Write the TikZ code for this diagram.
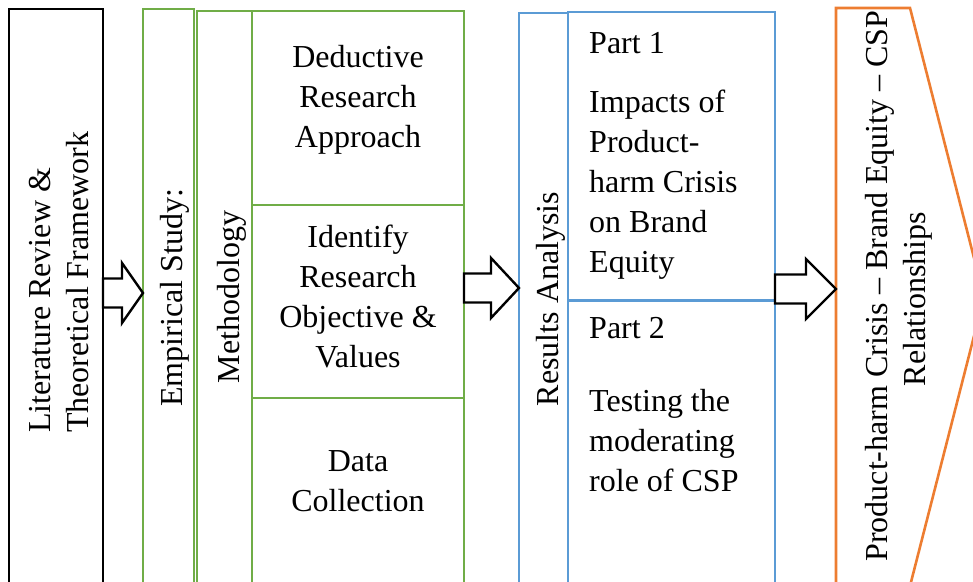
\documentclass[tikz,border=0pt]{standalone}
\usepackage{fontspec}
\setmainfont{Liberation Serif}
\usetikzlibrary{calc}

\definecolor{boxgreen}{RGB}{112,173,71}
\definecolor{boxblue}{RGB}{91,155,213}
\definecolor{boxorange}{RGB}{237,125,49}

% hollow block arrow: from, to, height, head length
\newcommand{\blockarrow}[4]{%
  \draw[fatarrow] let \p1=(#1), \p2=(#2) in
    (\x1,#3+14.5) -- (\x2-#4,#3+14.5) -- (\x2-#4,#3+30) -- (\x2,#3)
    -- (\x2-#4,#3-30) -- (\x2-#4,#3-14.5) -- (\x1,#3-14.5) -- cycle;}

\begin{document}
\begin{tikzpicture}[x=1pt, y=1pt,
    box/.style={draw, line width=2.6pt, inner sep=0pt, outer sep=0pt, anchor=north west},
    txt/.style={font=\fontsize{32}{40}\selectfont, inner sep=0pt},
    fatarrow/.style={draw=black, line width=2.4pt, fill=white, line join=miter}]
        \useasboundingbox (0,0) rectangle (973,581);
        \clip (0,0) rectangle (973,581);

        % literature
        \node[box, draw=black, minimum width=94pt, minimum height=590pt] (lit) at (9,572) {};
        \node[txt, rotate=90, anchor=base west] (lit1) at (50,148) {Literature Review \&};
        \node[txt, rotate=90, anchor=base west] (lit2) at (88,148) {Theoretical Framework};

        % empirical study
        \node[box, draw=boxgreen, minimum width=51pt, minimum height=590pt] (emp) at (143,572) {};
        \node[box, draw=boxgreen, minimum width=55pt, minimum height=590pt] (meth) at (197,570) {};
        \node[box, draw=boxgreen, minimum width=212pt, minimum height=194pt] (ded) at (252,570) {};
        \node[box, draw=boxgreen, minimum width=212pt, minimum height=193pt] (idf) at (252,376) {};
        \node[box, draw=boxgreen, minimum width=212pt, minimum height=200pt] (dat) at (252,183) {};
        \node[txt, rotate=90, anchor=base] (empt) at (182,283) {Empirical Study:};
        \node[txt, rotate=90, anchor=base] (metht) at (239,284) {Methodology};
        \foreach \w [count=\i] in {Deductive, Research, Approach}
            \node[txt, anchor=base] (ded\i) at (358,553-40*\i) {\w};
        \foreach \w [count=\i] in {Identify, Research, Objective \&, Values}
            \node[txt, anchor=base] (idf\i) at (358,373-40*\i) {\w};
        \foreach \w [count=\i] in {Data, Collection}
            \node[txt, anchor=base] (dat\i) at (358,150-40*\i) {\w};

        % results
        \node[box, draw=boxblue, minimum width=49pt, minimum height=590pt] (res) at (519,568) {};
        \node[box, draw=boxblue, minimum width=207pt, minimum height=288pt] (pa) at (568,569) {};
        \node[box, draw=boxblue, minimum width=207pt, minimum height=300pt] (pb) at (568,280) {};
        \node[txt, rotate=90, anchor=base] (rest) at (558,282) {Results Analysis};
        \node[txt, anchor=base west] (pa0) at (589,527) {Part 1};
        \foreach \w [count=\i] in {Impacts of, Product-, harm Crisis, on Brand, Equity}
            \node[txt, anchor=base west] (pa\i) at (589,508-40*\i) {\w};
        \node[txt, anchor=base west] (pb0) at (589,242) {Part 2};
        \foreach \w [count=\i] in {Testing the, moderating, role of CSP}
            \node[txt, anchor=base west] (pb\i) at (589,210-40*\i) {\w};

        % relationships
        \draw[boxorange, line width=2.6pt, line join=miter] (836,-5) -- (836,573) -- (910,573)
            -- (984,284) -- (910,-5) -- cycle;
        \coordinate (rel) at (836,292);
        \node[txt, rotate=90, anchor=base] (rel1) at (887,295) {Product-harm Crisis – Brand Equity – CSP};
        \node[txt, rotate=90, anchor=base] (rel2) at (925,282) {Relationships};

        % arrows between stages
        \blockarrow{lit.east}{emp.west}{288}{21}
        \blockarrow{ded.east}{res.west}{293}{28}
        \blockarrow{pb.east}{rel}{292}{30}
\end{tikzpicture}
\end{document}
